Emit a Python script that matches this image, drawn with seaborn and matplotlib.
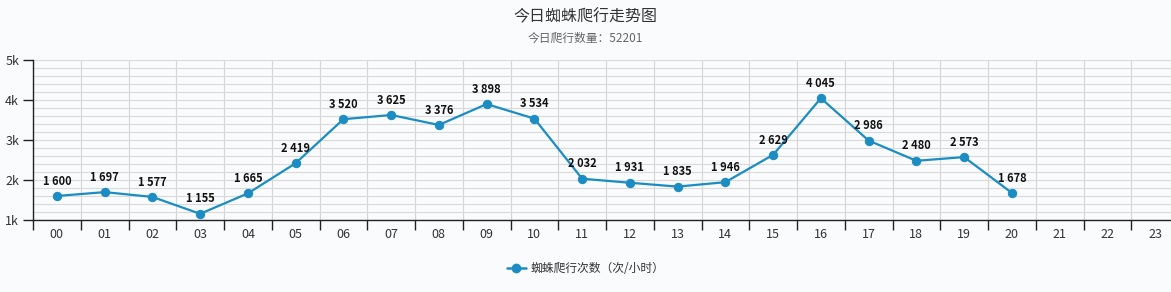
import matplotlib
matplotlib.use("Agg")
import matplotlib.pyplot as plt
import seaborn as sns
import pandas as pd
import numpy as np
from matplotlib.ticker import FixedLocator, NullFormatter, FixedFormatter
from matplotlib.lines import Line2D

hours = ["00","01","02","03","04","05","06","07","08","09","10","11",
         "12","13","14","15","16","17","18","19","20","21","22","23"]
counts = [1600,1697,1577,1155,1665,2419,3520,3625,3376,3898,3534,2032,
          1931,1835,1946,2629,4045,2986,2480,2573,1678]
y_ticks = [1000, 2000, 3000, 4000, 5000]
y_labels = ["1k", "2k", "3k", "4k", "5k"]
title = "今日蜘蛛爬行走势图"
subtitle = "今日爬行数量：52201"
series_name = "蜘蛛爬行次数（次/小时）"

sns.set_theme(style="white")
plt.rcParams['font.family'] = ['Noto Sans CJK SC', 'DejaVu Sans']

color = "#1b8dc2"
bg = "#fafbfd"

df = pd.DataFrame({"pos": np.arange(len(counts)), "count": counts})

fig = plt.figure(figsize=(11.71, 2.92), dpi=100, facecolor=bg)
ax = fig.add_axes([33/1171, 72/292, (1179-33)/1171, 160/292])
ax.set_facecolor("none")

sns.lineplot(data=df, x="pos", y="count", ax=ax, color=color, linewidth=1.6,
             marker="o", markersize=6, markeredgecolor=color, zorder=3)

for x, y in zip(df["pos"], df["count"]):
    ax.annotate(f"{y:,}".replace(",", " "), (x, y), xytext=(0, 6),
                textcoords="offset points", ha="center", va="bottom",
                fontsize=8, fontweight="bold", color="#111111")

n = len(hours)
ax.set_xlim(-0.5, n - 0.5)
ax.set_ylim(1000, 5000)

bounds = np.arange(n + 1) - 0.5
ax.xaxis.set_major_locator(FixedLocator(bounds))
ax.xaxis.set_major_formatter(NullFormatter())
ax.xaxis.set_minor_locator(FixedLocator(np.arange(n)))
ax.xaxis.set_minor_formatter(FixedFormatter(hours))
ax.tick_params(axis="x", which="major", length=7, width=1, color="#222222", direction="out", bottom=True)
ax.tick_params(axis="x", which="minor", length=0, labelsize=9, labelcolor="#333333", pad=6, bottom=True)

ax.set_yticks(y_ticks)
ax.set_yticklabels(y_labels)
ax.yaxis.set_minor_locator(FixedLocator(np.arange(1000, 5001, 200)))
ax.tick_params(axis="y", which="major", length=7, width=1, color="#222222", labelsize=9,
               labelcolor="#333333", direction="out", left=True, pad=3)
ax.tick_params(axis="y", which="minor", length=0)

ax.grid(True, axis="x", which="major", color="#d6d6d6", linewidth=0.8)
ax.grid(True, axis="y", which="both", color="#d9d9d9", linewidth=0.8)

for s in ["top", "right"]:
    ax.spines[s].set_visible(False)
ax.spines["left"].set_color("#222222")
ax.spines["bottom"].set_color("#222222")
ax.spines["left"].set_linewidth(1)
ax.spines["bottom"].set_linewidth(1)
ax.set_xlabel("")
ax.set_ylabel("")

fig.text(0.5, 1 - 17/292, title, ha="center", va="center", fontsize=11.5, color="#333333")
fig.text(0.5, 1 - 38/292, subtitle, ha="center", va="center", fontsize=8.5, color="#666666")

handle = Line2D([0], [0], color=color, marker="o", markersize=6, linewidth=1.8)
fig.legend([handle], [series_name], loc="center", bbox_to_anchor=(0.5, 1 - 269/292),
           frameon=False, fontsize=8.5, handlelength=1.6, handletextpad=0.4,
           labelcolor="#333333")

fig.savefig("out.png", dpi=100, facecolor=bg)
